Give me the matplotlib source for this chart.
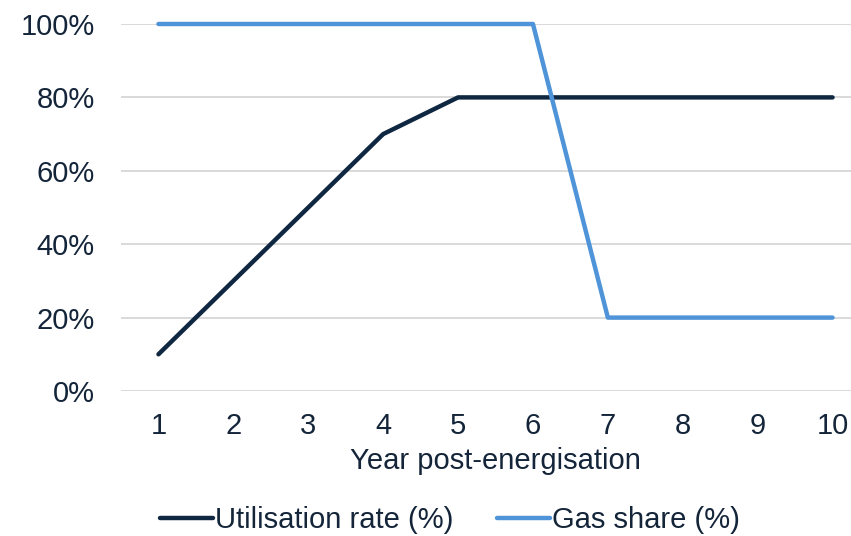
import matplotlib.pyplot as plt
from matplotlib.ticker import PercentFormatter

plt.rcParams['font.family'] = ['Liberation Sans', 'DejaVu Sans']

# Series by year after energisation
years = [1, 2, 3, 4, 5, 6, 7, 8, 9, 10]
utilisation = [10, 30, 50, 70, 80, 80, 80, 80, 80, 80]
gas_share = [100, 100, 100, 100, 100, 100, 20, 20, 20, 20]

navy = '#0f2741'
blue = '#4f94d8'
txt = '#14253a'
fs = 21

fig = plt.figure(figsize=(8.51, 5.36), dpi=100)
ax = fig.add_axes([121 / 851, 1 - 391 / 536, 749 / 851, 367 / 536])

ax.plot(years, utilisation, color=navy, lw=3.2, solid_capstyle='round',
        solid_joinstyle='round', label='Utilisation rate (%)', clip_on=False, zorder=3)
ax.plot(years, gas_share, color=blue, lw=3.2, solid_capstyle='round',
        solid_joinstyle='round', label='Gas share (%)', clip_on=False, zorder=3)

ax.set_xlim(0.5, 10.5)
ax.set_ylim(0, 100)
ax.set_xticks(years)
ax.set_yticks(range(0, 101, 20))
ax.yaxis.set_major_formatter(PercentFormatter(decimals=0))
ax.grid(axis='y', color='#d9d9d9', lw=1.4)
ax.set_axisbelow(True)
for s in ax.spines.values():
    s.set_visible(False)
ax.tick_params(length=0, labelsize=fs, labelcolor=txt)
ax.tick_params(axis='x', pad=15)
ax.tick_params(axis='y', pad=19)
ax.set_xlabel('Year post-energisation', fontsize=fs, color=txt, labelpad=5)

fig.legend(loc='center', bbox_to_anchor=(450 / 851, 1 - 520 / 536), ncol=2,
           frameon=False, fontsize=fs, handlelength=1.8, handletextpad=0.08,
           columnspacing=1.5, labelcolor=txt)

fig.savefig('out.png', dpi=100)
